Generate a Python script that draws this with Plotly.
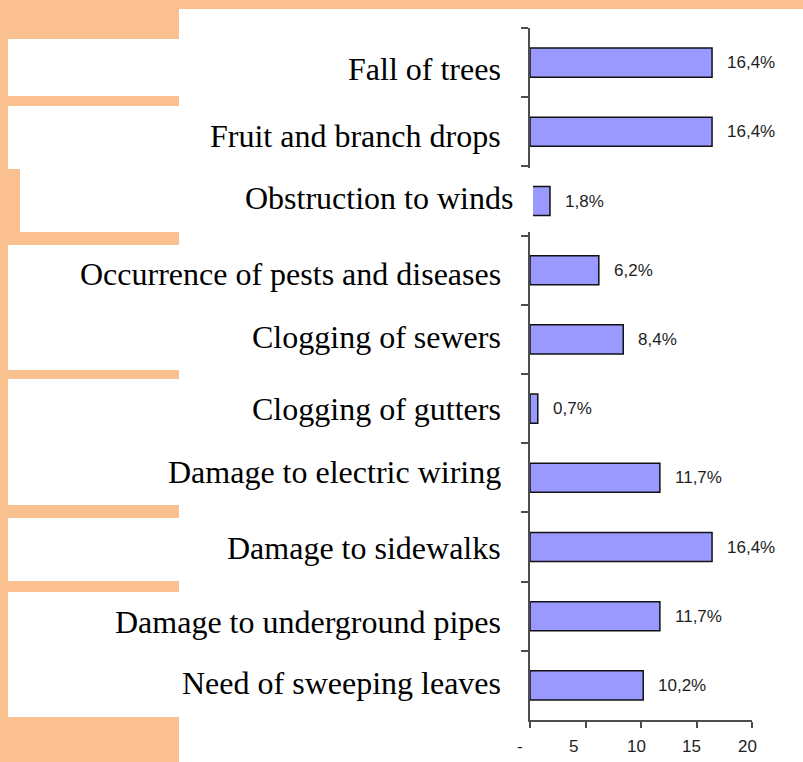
import plotly.graph_objects as go

# Survey responses: perceived problems caused by urban trees (% of answers)
categories = [
    "Fall of trees",
    "Fruit and branch drops",
    "Obstruction to winds",
    "Occurrence of pests and diseases",
    "Clogging of sewers",
    "Clogging of gutters",
    "Damage to electric wiring",
    "Damage to sidewalks",
    "Damage to underground pipes",
    "Need of sweeping leaves",
]
percent = [16.4, 16.4, 1.8, 6.2, 8.4, 0.7, 11.7, 16.4, 11.7, 10.2]

tick_values = [0, 5, 10, 15, 20]
tick_labels = ["-", "5", "10", "15", "20"]

# ---- layout geometry (pixels) ----
W, H = 803, 762
L, R, T, B = 530, 752, 28, 720
PW, PH = R - L, B - T

PEACH = "#FAC090"
BAR = "#9999FF"
AXIS = "#4d4d4d"


def px(x):
    return (x - L) / PW


def py(y):
    return (B - y) / PH


fig = go.Figure()
fig.add_trace(go.Bar(
    x=percent,
    y=categories,
    orientation="h",
    width=0.42,
    marker=dict(color=BAR, line=dict(color="#111111", width=1.5)),
    hoverinfo="skip",
))

# Category labels set beside the axis; per-label nudges keep the pasted look
label_dx = [-28, -28, -16, -28, -28, -28, -28, -28, -28, -28]
label_dy = [-6, -3.7, 3.5, -3.3, 2.9, 0, 6.3, -0.5, -5.3, 2.9]
annotations = []
for cat, dx, dy in zip(categories, label_dx, label_dy):
    annotations.append(dict(
        x=0, y=cat, xref="x", yref="y", text=cat, showarrow=False,
        xanchor="right", yanchor="middle", xshift=dx, yshift=dy,
        borderpad=0,
        font=dict(family="Liberation Serif", size=32, color="#000000"),
    ))

# Value labels to the right of each bar
for cat, v in zip(categories, percent):
    annotations.append(dict(
        x=v, y=cat, xref="x", yref="y",
        text=f"{v:.1f}".replace(".", ",") + "%", showarrow=False,
        xanchor="left", yanchor="middle", xshift=14, borderpad=0,
        font=dict(family="Liberation Sans", size=17, color="#1e1e1e"),
    ))

# Value-axis labels in accounting style (padded, so they sit left of the tick)
tick_dx = [-10, -12, -5, -5, -5]
for tv, tl, dx in zip(tick_values, tick_labels, tick_dx):
    annotations.append(dict(
        x=tv, y=py(746), xref="x", yref="paper", text=tl, showarrow=False,
        xanchor="center", yanchor="middle", xshift=dx, borderpad=0,
        font=dict(family="Liberation Sans", size=17, color="#1e1e1e"),
    ))

# Peach frame pieces around the label column
peach_rects = [
    (0, 0, 803, 9),
    (0, 0, 8, 762),
    (0, 0, 179, 39),
    (0, 96, 179, 106),
    (0, 169, 20, 232),
    (0, 232, 179, 245),
    (0, 370, 179, 379),
    (0, 505, 179, 518),
    (0, 581, 179, 592),
    (0, 717, 179, 762),
]
shapes = []
for x0, y0, x1, y1 in peach_rects:
    shapes.append(dict(
        type="rect", xref="paper", yref="paper",
        x0=px(x0), x1=px(x1), y0=py(y1), y1=py(y0),
        fillcolor=PEACH, line=dict(width=0), layer="below",
    ))
# White panel behind the "Obstruction to winds" label, laid over the axis
shapes.append(dict(
    type="rect", xref="paper", yref="paper",
    x0=px(20), x1=px(533), y0=py(232), y1=py(168),
    fillcolor="#FFFFFF", line=dict(width=0), layer="above",
))

fig.update_layout(
    width=W, height=H,
    margin=dict(l=L, r=W - R, t=T, b=H - B, pad=0),
    paper_bgcolor="#FFFFFF",
    plot_bgcolor="#FFFFFF",
    showlegend=False,
    annotations=annotations,
    shapes=shapes,
    xaxis=dict(
        range=[0, 20],
        tickmode="array",
        tickvals=tick_values,
        showticklabels=False,
        ticks="outside", ticklen=6, tickwidth=1.5, tickcolor=AXIS,
        showline=True, linecolor=AXIS, linewidth=1.5,
        showgrid=False, zeroline=False,
        fixedrange=True,
    ),
    yaxis=dict(
        type="category",
        categoryorder="array",
        categoryarray=categories,
        range=[len(categories) - 0.5, -0.5],
        showticklabels=False,
        ticks="outside", tickson="boundaries", ticklen=7, tickwidth=1.5,
        tickcolor=AXIS,
        showline=True, linecolor=AXIS, linewidth=1.5,
        showgrid=False, zeroline=False,
        fixedrange=True,
    ),
)

fig.write_html("out.html")
